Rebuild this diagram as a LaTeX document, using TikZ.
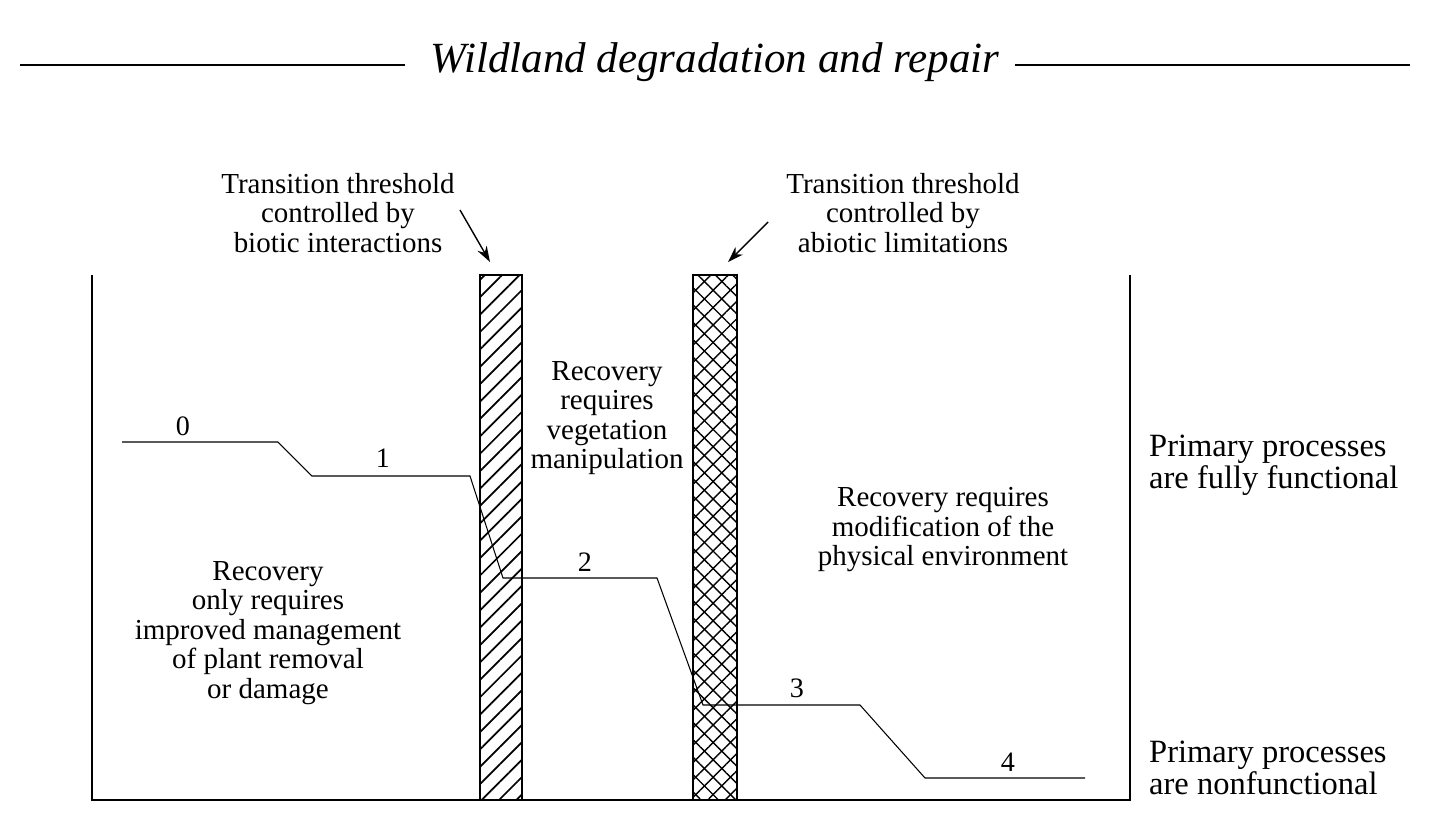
\documentclass[tikz,border=0pt]{standalone}
\usepackage{fontspec}
\setmainfont{Liberation Serif}
\usetikzlibrary{patterns.meta,arrows.meta}
\begin{document}
\begin{tikzpicture}[x=0.02cm,y=-0.02cm,
  lbl/.style={align=center,font=\fontsize{16.5}{16.8}\selectfont},
  big/.style={align=left,anchor=west,font=\fontsize{18.5}{18.5}\selectfont},
  num/.style={font=\fontsize{16}{17}\selectfont},
  ln/.style={line width=0.8pt},
  stepline/.style={line width=0.6pt}]
\useasboundingbox[fill=white] (0,0) rectangle (1440,812);
% title
\node[font=\fontsize{24.5}{26}\selectfont\itshape] (title) at (715,62) {Wildland degradation and repair};
\coordinate (tl) at (20,65); \coordinate (tr) at (1410,65);
\coordinate (tlm) at (405,65); \coordinate (trm) at (1015,65);
\draw[ln] (tl) -- (tlm);
\draw[ln] (trm) -- (tr);
% box
\coordinate (b1) at (92,275); \coordinate (b2) at (92,800);
\coordinate (b3) at (1130,800); \coordinate (b4) at (1130,275);
\draw[line width=1.6pt] (b1) -- (b2) -- (b3) -- (b4);
% bars
\path[pattern={Lines[angle=45,distance=7pt,line width=1pt]}] (480,275) rectangle (522,800);
\draw[line width=1pt] (480,275) rectangle (522,800);
\path[pattern={Lines[angle=45,distance=7pt,line width=0.8pt]}] (693,275) rectangle (737,800);
\path[pattern={Lines[angle=-45,distance=7pt,line width=0.8pt]}] (693,275) rectangle (737,800);
\draw[line width=1pt] (693,275) rectangle (737,800);
% labels
\node[lbl] (t1) at (338,213) {Transition threshold\\controlled by\\biotic interactions};
\node[lbl] (t2) at (903,213) {Transition threshold\\controlled by\\abiotic limitations};
\coordinate (a1s) at (460,210); \coordinate (a1e) at (490,262);
\coordinate (a2s) at (768,222); \coordinate (a2e) at (728,262);
\draw[line width=0.8pt,-{Stealth[length=9pt,width=6pt]}] (a1s) -- (a1e);
\draw[line width=0.8pt,-{Stealth[length=9pt,width=6pt]}] (a2s) -- (a2e);
\node[lbl] (r1) at (607,418) {Recovery\\requires\\vegetation\\manipulation};
\node[lbl] (r2) at (943,530) {Recovery requires\\modification of the\\physical environment};
\node[lbl] (r3) at (268,633) {Recovery\\only requires\\improved management\\of plant removal\\or damage};
\node[big] (p1) at (1143,465) {Primary processes\\are fully functional};
\node[big] (p2) at (1143,768) {Primary processes\\are nonfunctional};
% step line
\draw[stepline] (122,442) -- (278,442) -- (312,476) -- (470,476) -- (503,578) -- (657,578) -- (703,705) -- (860,705) -- (925,778) -- (1085,778);
\node[num] (n0) at (183,426) {0};
\node[num] (n1) at (383,458) {1};
\node[num] (n2) at (585,562) {2};
\node[num] (n3) at (797,688) {3};
\node[num] (n4) at (1008,762) {4};
\end{tikzpicture}
\end{document}
